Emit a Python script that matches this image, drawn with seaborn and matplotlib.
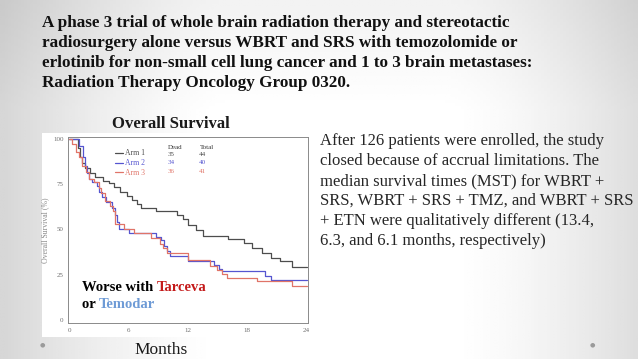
import numpy as np
import pandas as pd
import matplotlib
matplotlib.use("Agg")
import matplotlib.pyplot as plt
import seaborn as sns
from matplotlib.patches import Rectangle

# ---------------- data ----------------
arm1_months = [0, 0.9, 1.1, 1.3, 1.6, 2.1, 2.6, 3.4, 4.0, 4.5, 5.1, 5.8, 6.3, 6.8, 7.2, 8.8,
               10.9, 11.5, 12.0, 12.8, 13.5, 16.0, 17.7, 18.5, 19.5, 20.4, 21.3, 22.5, 24]
arm1_surv = [100, 95, 90, 87, 84, 81, 79, 77, 75.5, 73.5, 70.5, 68.5, 66.5, 64, 62, 60,
             58, 56, 52.5, 49.5, 46.5, 44.5, 42.5, 40, 37, 34.5, 32.5, 29.5, 29.5]

arm2_months = [0, 1.0, 1.4, 1.6, 1.8, 2.0, 2.3, 2.8, 3.0, 3.3, 3.7, 4.3, 4.6, 4.8, 5.0, 6.0,
               8.8, 9.3, 9.6, 9.9, 10.2, 12.0, 14.6, 15.1, 15.4, 19.8, 20.4, 24]
arm2_surv = [100, 96, 90, 85, 81, 78, 76, 74, 71, 68, 65, 62, 58, 54, 50.5, 48,
             46, 44, 41, 38, 35.5, 32.4, 30.6, 28, 27, 24.4, 22, 22]

arm3_months = [0, 0.3, 0.7, 1.0, 1.3, 1.7, 2.0, 2.5, 3.0, 3.2, 3.6, 4.1, 4.4, 4.6, 5.5, 6.5,
               8.3, 9.2, 9.5, 9.9, 12.0, 14.2, 14.9, 15.4, 15.9, 19.0, 22.5, 24]
arm3_surv = [100, 97, 93, 90, 85, 82, 78, 76, 73, 70, 66, 63, 60, 53, 50.5, 48,
             45.5, 42, 40, 37, 33.3, 29.6, 27.8, 25.2, 23.1, 21.3, 18.5, 18.5]

arm_names = ["Arm 1", "Arm 2", "Arm 3"]
dead_counts = [35, 34, 36]
total_counts = [44, 40, 41]
x_ticks = [0, 6, 12, 18, 24]
y_ticks = [0, 25, 50, 75, 100]

title_lines = [
    "A phase 3 trial of whole brain radiation therapy and stereotactic",
    "radiosurgery alone versus WBRT and SRS with temozolomide or",
    "erlotinib for non-small cell lung cancer and 1 to 3 brain metastases:",
    "Radiation Therapy Oncology Group 0320.",
]
body_lines = [
    "After 126 patients were enrolled, the study",
    "closed because of accrual limitations. The",
    "median survival times (MST) for WBRT +",
    "SRS, WBRT + SRS + TMZ, and WBRT + SRS",
    "+ ETN were qualitatively different (13.4,",
    "6.3, and 6.1 months, respectively)",
]

colors = {"Arm 1": "#4d4d4d", "Arm 2": "#5555d0", "Arm 3": "#e07468"}

df = pd.concat([
    pd.DataFrame({"month": arm1_months, "surv": arm1_surv, "arm": "Arm 1"}),
    pd.DataFrame({"month": arm2_months, "surv": arm2_surv, "arm": "Arm 2"}),
    pd.DataFrame({"month": arm3_months, "surv": arm3_surv, "arm": "Arm 3"}),
], ignore_index=True)

# ---------------- figure ----------------
W, H = 638, 359
fig = plt.figure(figsize=(W / 100, H / 100), dpi=100)

def P(x, y):
    return x / W, 1 - y / H

# background vignette
bg = fig.add_axes([0, 0, 1, 1], zorder=-10)
xx = np.linspace(0, 1, 200)
yy = np.linspace(0, 1, 120)
X, Y = np.meshgrid(xx, yy)
val = 1 - 0.16 * np.clip(1 - X / 0.35, 0, 1) ** 1.5 - 0.13 * np.clip((X - 0.7) / 0.3, 0, 1) ** 1.5 \
      - 0.05 * np.clip(1 - Y / 0.3, 0, 1)
bg.imshow(np.clip(val, 0, 1), cmap="gray", vmin=0, vmax=1, aspect="auto",
          extent=[0, 1, 0, 1], interpolation="bilinear")
bg.set_axis_off()

# white chart image box
fig.patches.append(Rectangle(P(42, 337), 268 / W, 204 / H, transform=fig.transFigure,
                             facecolor="white", edgecolor="none", zorder=-5))

sns.set_style("white")
serif = ["Liberation Serif", "DejaVu Serif"]

ax = fig.add_axes([68.3 / W, 1 - 323 / H, (308 - 68.3) / W, (323 - 136.7) / H])
sns.lineplot(data=df, x="month", y="surv", hue="arm", palette=colors, ax=ax,
             drawstyle="steps-post", estimator=None, sort=False, linewidth=0.9)
ax.set_xlim(-0.1, 24.13)
ax.set_ylim(-1.7, 101.3)
ax.set_xticks(x_ticks)
ax.set_yticks(y_ticks)
ax.set_xticklabels([str(t) for t in x_ticks], fontfamily=serif, fontsize=5, color="#6f6f6f")
ax.set_yticklabels([str(t) for t in y_ticks], fontfamily=serif, fontsize=5, color="#6f6f6f")
ax.tick_params(length=2, width=0.6, color="#888888", pad=1.5)
ax.set_xlabel("")
ax.set_ylabel("Overall Survival (%)", fontfamily=serif, fontsize=5.6, color="#888888", labelpad=3)
ax.set_facecolor("white")
for s in ax.spines.values():
    s.set_color("#8a8a8a")
    s.set_linewidth(0.7)

leg = ax.legend(loc="upper left", bbox_to_anchor=P(115, 149.5), bbox_transform=fig.transFigure,
                frameon=False, handlelength=1.0, handletextpad=0.3,
                labelspacing=0.22, borderpad=0, borderaxespad=0, labelcolor="linecolor",
                prop={"family": serif, "size": 5.5})
for line in leg.get_lines():
    line.set_linewidth(0.9)

row_y = [154.5, 163, 171.5]
fig.text(*P(175, 147.5), "Dead", ha="center", va="center", fontsize=5, fontfamily=serif, color="#333333")
fig.text(*P(206.5, 147.5), "Total", ha="center", va="center", fontsize=5, fontfamily=serif, color="#333333")
for name, d, t, y in zip(arm_names, dead_counts, total_counts, row_y):
    c = colors[name]
    fig.text(*P(171.5, y), str(d), ha="center", va="center", fontsize=5, fontfamily=serif, color=c)
    fig.text(*P(202.5, y), str(t), ha="center", va="center", fontsize=5, fontfamily=serif, color=c)

# overlay annotation
t1 = fig.text(*P(82, 291), "Worse with ", fontsize=10.5, fontweight="bold", fontfamily=serif, color="black")
fig.canvas.draw()
bb = t1.get_window_extent()
fig.text(bb.x1 / W, 1 - 291 / H, "Tarceva", fontsize=10.5, fontweight="bold", fontfamily=serif, color="#c41a1a")
t2 = fig.text(*P(82, 307.5), "or ", fontsize=10.5, fontweight="bold", fontfamily=serif, color="black")
fig.canvas.draw()
bb2 = t2.get_window_extent()
fig.text(bb2.x1 / W, 1 - 307.5 / H, "Temodar", fontsize=10.5, fontweight="bold", fontfamily=serif, color="#6e9bd6")

# chart headings
fig.text(*P(171, 127.5), "Overall Survival", ha="center", va="baseline", fontsize=12,
         fontweight="bold", fontfamily=serif, color="#1a1a1a")
fig.text(*P(161, 353.5), "Months", ha="center", va="baseline", fontsize=12.5,
         fontfamily=serif, color="#1a1a1a")

# slide title
for i, line in enumerate(title_lines):
    fig.text(*P(42, 27 + 20 * i), line, ha="left", va="baseline", fontsize=12.3,
             fontweight="bold", fontfamily=serif, color="#111111")

# body text
for i, line in enumerate(body_lines):
    fig.text(*P(320.5, 145 + 20 * i), line, ha="left", va="baseline", fontsize=12,
             fontfamily=serif, color="#262626")

# decorative bullets
for x in (42, 592):
    fig.text(*P(x, 345), "\u25CF", ha="center", va="center", fontsize=4.5, color="#9a9a9a",
             fontfamily="DejaVu Sans")

fig.savefig("out.png", dpi=100)
